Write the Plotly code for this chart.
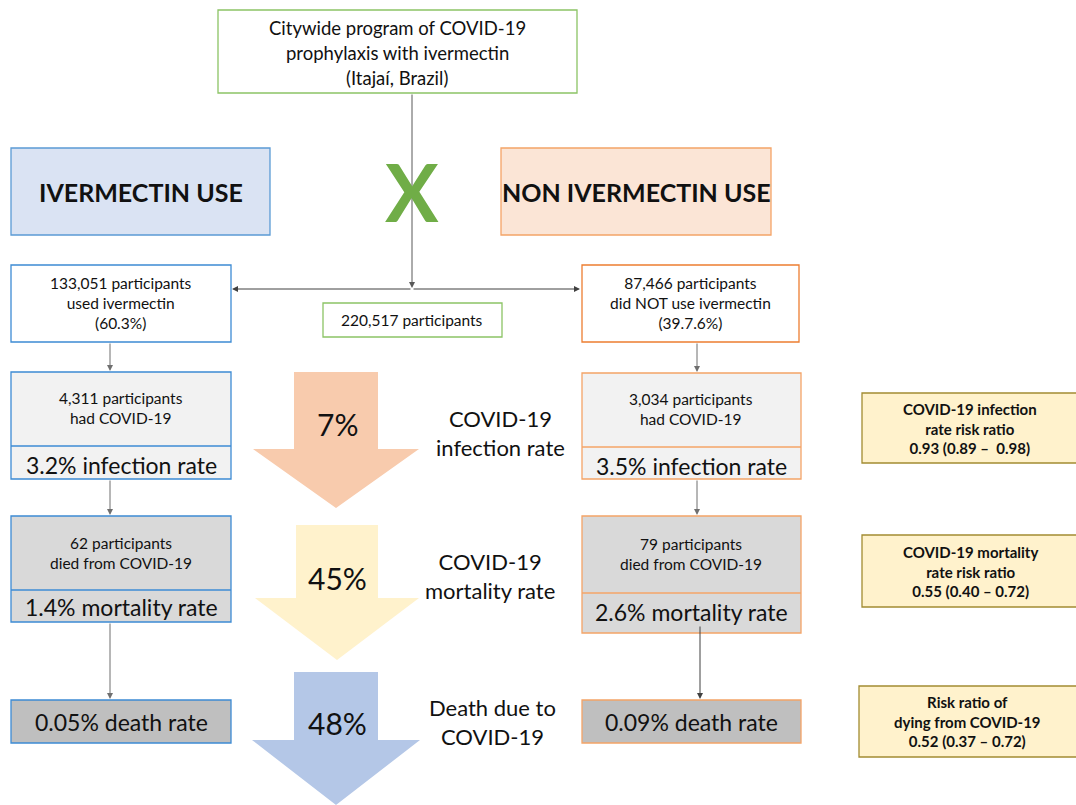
import plotly.graph_objects as go

# ---- data / texts ----
top_title = ["Citywide program of COVID-19", "prophylaxis with ivermectin", "(Itajaí, Brazil)"]
total_text = "220,517 participants"
group_titles = ["IVERMECTIN USE", "NON IVERMECTIN USE"]
left_counts = ["133,051 participants<br>used ivermectin<br>(60.3%)",
               "4,311 participants<br>had COVID-19",
               "62 participants<br>died from COVID-19"]
right_counts = ["87,466 participants<br>did NOT use ivermectin<br>(39.7.6%)",
                "3,034 participants<br>had COVID-19",
                "79 participants<br>died from COVID-19"]
left_rates = ["3.2% infection rate", "1.4% mortality rate", "0.05% death rate"]
right_rates = ["3.5% infection rate", "2.6% mortality rate", "0.09% death rate"]
reductions = ["7%", "45%", "48%"]
outcome_labels = ["COVID-19<br>infection rate", "COVID-19<br>mortality rate", "Death due to<br>COVID-19"]
risk_ratios = ["COVID-19 infection<br>rate risk ratio<br>0.93 (0.89 –  0.98)",
               "COVID-19 mortality<br>rate risk ratio<br>0.55 (0.40 – 0.72)",
               "Risk ratio of<br>dying from COVID-19<br>0.52 (0.37 – 0.72)"]

FONT = "Lato"
W, H = 1076, 805
fig = go.Figure()
shapes = []
ann = []


def rect(x0, y0, x1, y1, fill, line, lw=1.3):
    shapes.append(dict(type="rect", x0=x0, y0=y0, x1=x1, y1=y1, xref="x", yref="y",
                       fillcolor=fill, line=dict(color=line, width=lw), layer="below"))


def hline(x0, x1, y, color):
    shapes.append(dict(type="line", x0=x0, x1=x1, y0=y, y1=y, xref="x", yref="y",
                       line=dict(color=color, width=1.3)))


def text(x, y, t, size, bold=False, color="#111111", xanchor="center"):
    if bold:
        t = "<b>" + t.replace("<br>", "</b><br><b>") + "</b>"
    ann.append(dict(x=x, y=y, xref="x", yref="y", text=t, showarrow=False,
                    font=dict(family=FONT, size=size, color=color),
                    xanchor=xanchor, yanchor="middle", align="center"))


def arrow(x0, y0, x1, y1, color="#6F6F6F"):
    ann.append(dict(x=x1, y=y1, ax=x0, ay=y0, xref="x", yref="y", axref="x", ayref="y",
                    text="", showarrow=True, arrowhead=2, arrowsize=1.2,
                    arrowwidth=1, arrowcolor=color, standoff=0, startstandoff=0))


def block_arrow(cx, ytop, ymid, ytip, bw, hw, fill):
    p = (f"M {cx-bw},{ytop} L {cx+bw},{ytop} L {cx+bw},{ymid} L {cx+hw},{ymid} "
         f"L {cx},{ytip} L {cx-hw},{ymid} L {cx-bw},{ymid} Z")
    shapes.append(dict(type="path", path=p, xref="x", yref="y", fillcolor=fill,
                       line=dict(width=0), layer="below"))


GREEN = "#8CC465"
BLUE = "#3D8BD4"
ORANGE = "#ED7D31"
ORANGE2 = "#F4A467"
SMALL = 15.5
RATE = 23

# top box
rect(218, 10, 577, 93, "white", GREEN)
for i, t in enumerate(top_title):
    text(397, 28 + i * 25, t, 18.5)

# group header boxes
rect(11, 148, 270, 235, "#DAE3F3", "#5B9BD5")
rect(501, 148, 771, 235, "#FBE5D6", "#F4A467")
text(141, 192, group_titles[0], 25, bold=True)
text(636, 192, group_titles[1], 25, bold=True)

# connectors from top box
arrow(412, 93, 412, 288, color="#595959")
arrow(412, 289, 232, 289, color="#404040")
arrow(412, 289, 580, 289, color="#404040")
text(412, 191, "<b>X</b>", 80, color="#70AD47")

# total participants
rect(323, 303, 502, 337, "white", GREEN)
text(412, 320, total_text, SMALL)

# left column
rect(11, 265, 231, 342, "white", BLUE)
text(121, 303, left_counts[0], SMALL)
rect(11, 372, 231, 479, "#F2F2F2", BLUE)
hline(11, 231, 446, BLUE)
text(121, 408, left_counts[1], SMALL)
text(121, 465, left_rates[0], RATE)
rect(11, 516, 231, 622, "#D9D9D9", BLUE)
hline(11, 231, 590, BLUE)
text(121, 553, left_counts[2], SMALL)
text(121, 607, left_rates[1], RATE)
rect(11, 700, 231, 743, "#BFBFBF", BLUE)
text(121, 722, left_rates[2], RATE)
arrow(110, 342, 110, 371)
arrow(110, 479, 110, 515)
arrow(110, 622, 110, 699)

# right column
rect(582, 265, 799, 342, "white", ORANGE)
text(690, 303, right_counts[0], SMALL)
rect(582, 373, 801, 479, "#F2F2F2", ORANGE2)
hline(582, 801, 447, ORANGE2)
text(691, 409, right_counts[1], SMALL)
text(691, 466, right_rates[0], RATE)
rect(582, 516, 801, 633, "#D9D9D9", ORANGE2)
hline(582, 801, 593, ORANGE2)
text(691, 554, right_counts[2], SMALL)
text(691, 612, right_rates[1], RATE)
rect(582, 700, 801, 743, "#BFBFBF", ORANGE2)
text(691, 722, right_rates[2], RATE)
arrow(697, 342, 697, 372)
arrow(697, 479, 697, 515)
arrow(700, 625, 700, 699, color="#404040")

# block arrows
block_arrow(336, 372, 449, 508, 42, 83, "#F8CBAD")
block_arrow(337, 525, 598, 660, 41, 82, "#FFF2CC")
block_arrow(336, 672, 740, 805, 42, 84, "#B4C7E7")
arrow_y = [424, 578, 723]
for i, r in enumerate(reductions):
    text(337, arrow_y[i], r, 30)
lab_y = [433, 576, 722]
lab_x = [500, 490, 492]
for i, t in enumerate(outcome_labels):
    text(lab_x[i], lab_y[i], t, 22)

# risk ratio boxes
rr_boxes = [(862, 393, 1085, 463), (862, 535, 1085, 607), (859, 686, 1085, 757)]
rr_cx = [970, 970, 967]
for (x0, y0, x1, y1), cx, t in zip(rr_boxes, rr_cx, risk_ratios):
    rect(x0, y0, x1, y1, "#FFF2CC", "#A28C32")
    text(cx, (y0 + y1) / 2, t, 15, bold=True)

fig.update_layout(
    width=W, height=H, margin=dict(l=0, r=0, t=0, b=0),
    paper_bgcolor="white", plot_bgcolor="white",
    xaxis=dict(range=[0, W], visible=False, fixedrange=True),
    yaxis=dict(range=[H, 0], visible=False, fixedrange=True),
    shapes=shapes, annotations=ann, showlegend=False,
)
fig.write_html(
    "out.html",
    config={"displayModeBar": False, "staticPlot": True},
    post_script="document.body.style.margin='0';document.body.style.overflow='hidden';",
)
